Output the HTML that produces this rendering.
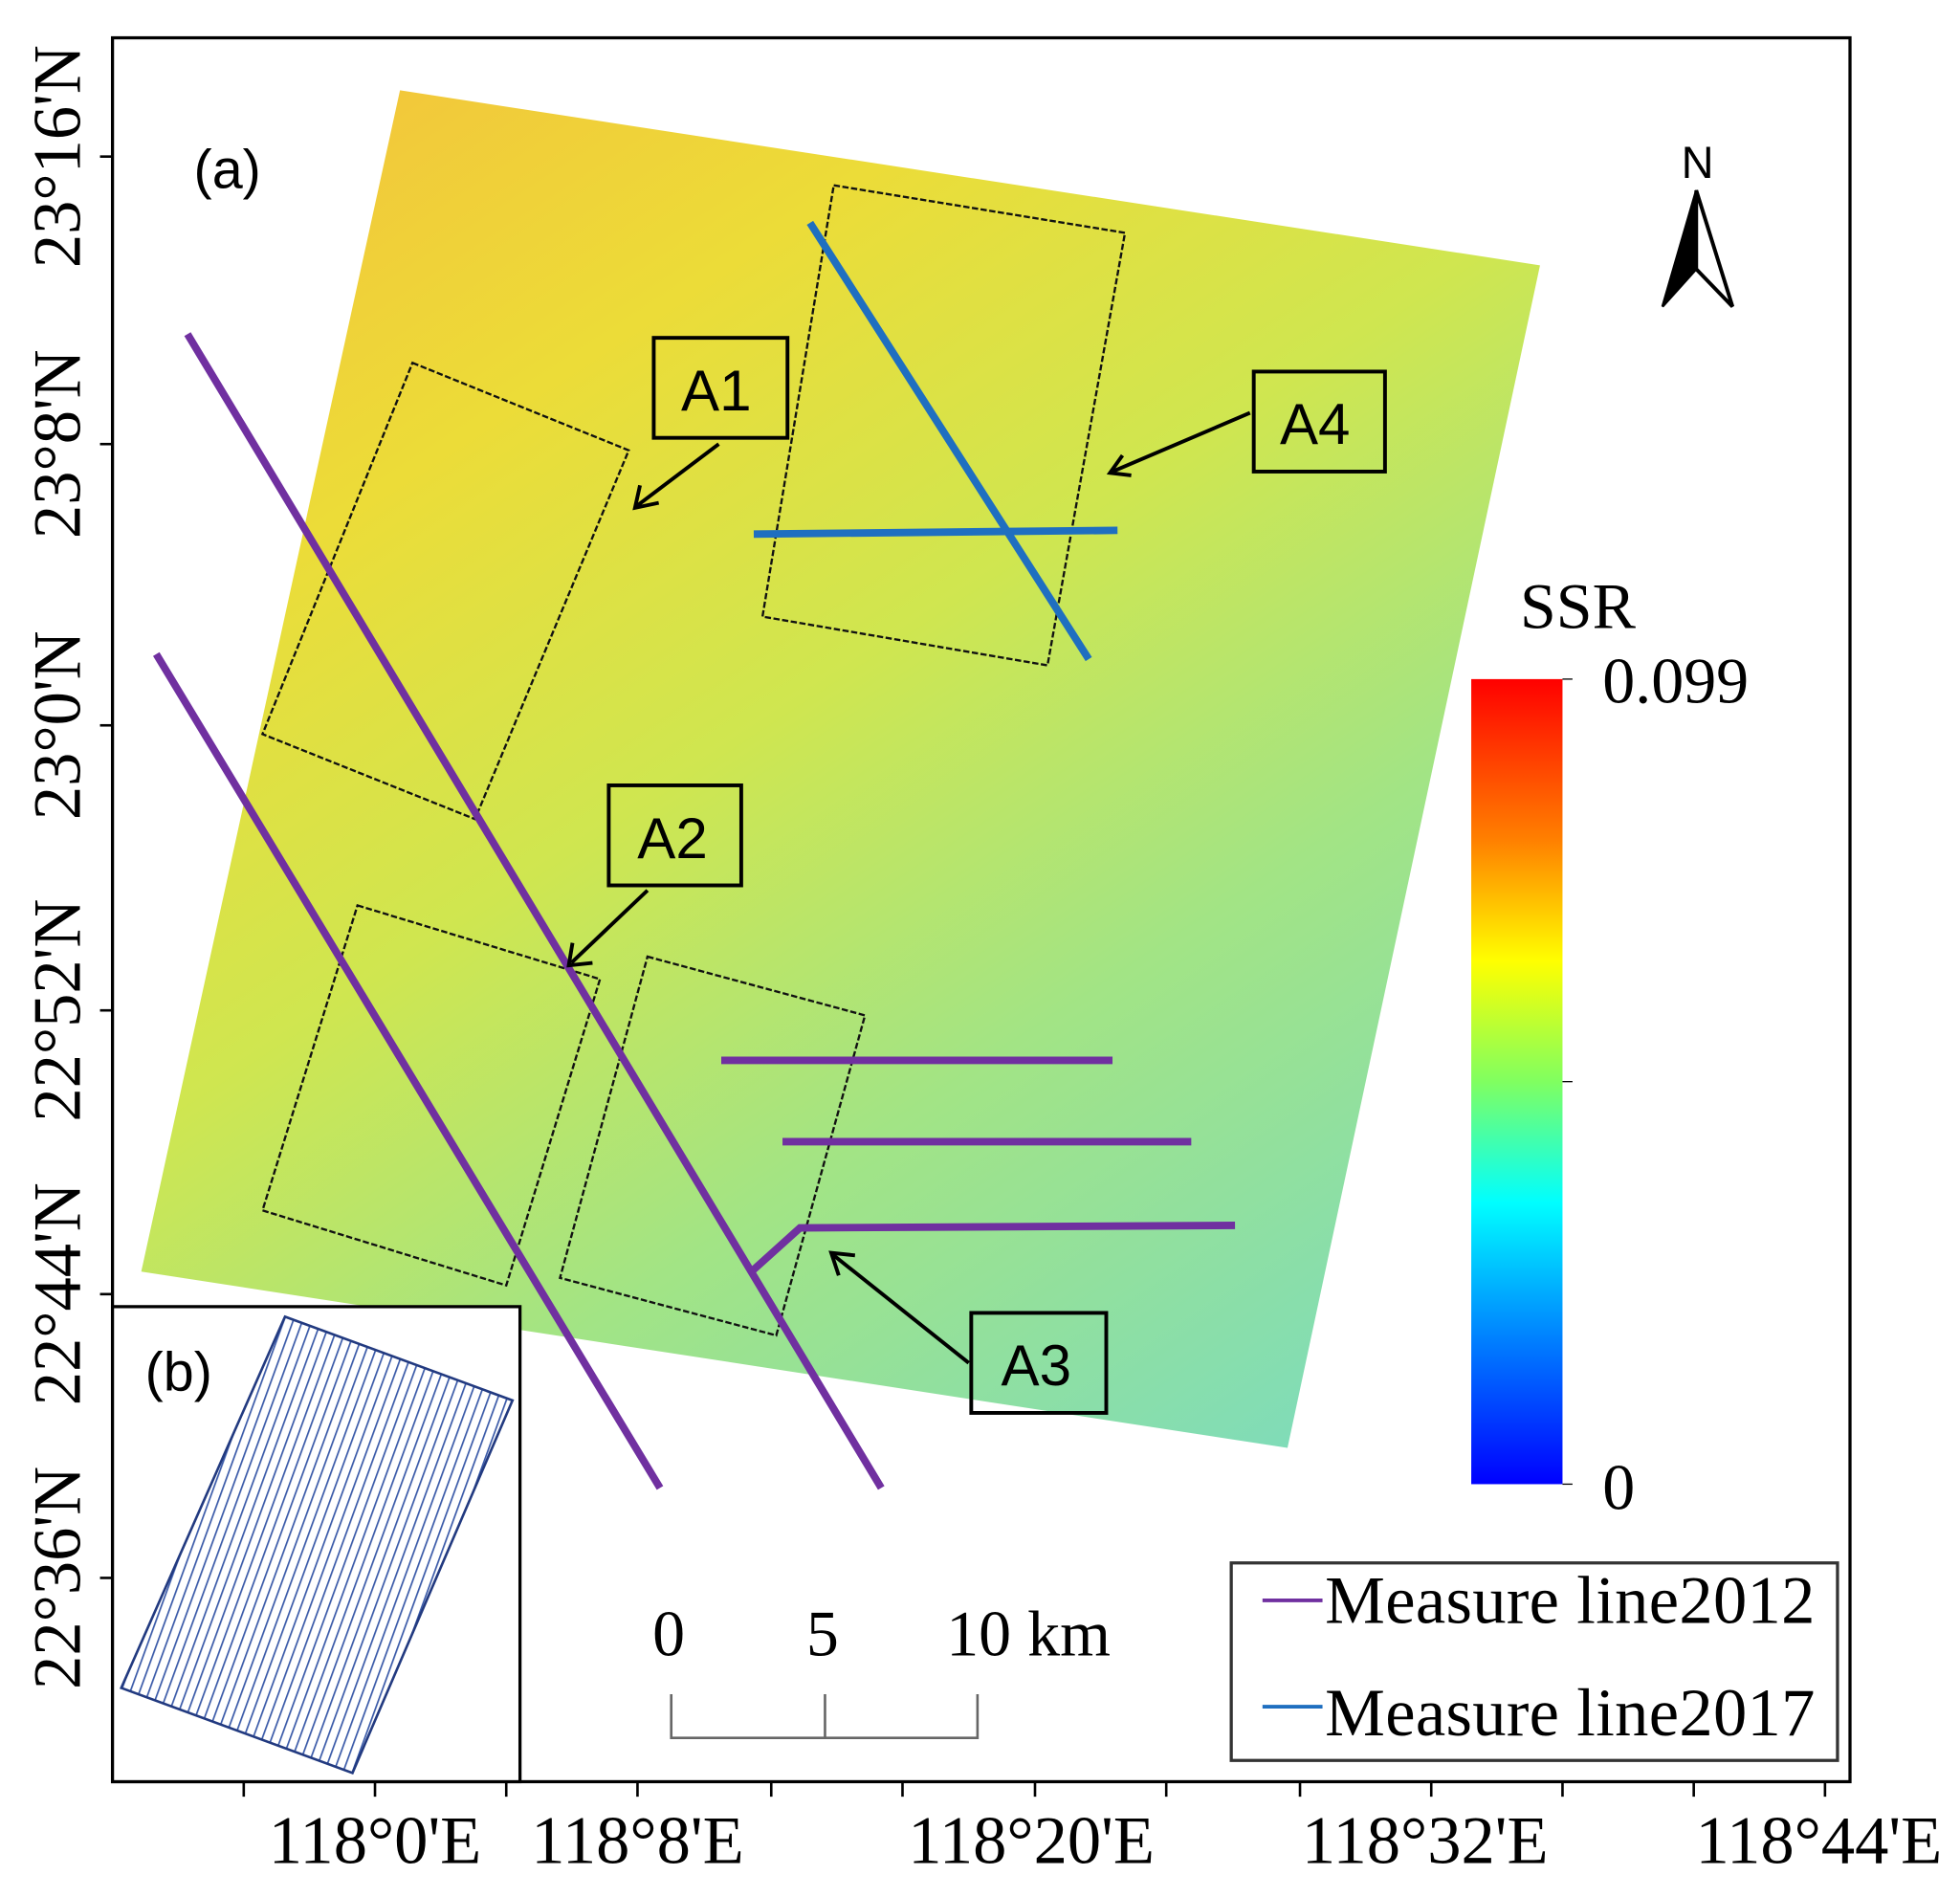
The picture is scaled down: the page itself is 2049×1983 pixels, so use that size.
<!DOCTYPE html>
<html><head><meta charset="utf-8"><style>
html,body{margin:0;padding:0;background:#fff;}
svg{display:block;}
</style></head><body>
<svg width="2049" height="1983" viewBox="0 0 1568 1517" xmlns="http://www.w3.org/2000/svg">
<defs>
<linearGradient id="img" x1="320" y1="72" x2="1030" y2="1158" gradientUnits="userSpaceOnUse">
<stop offset="0" stop-color="#f2c83a"/>
<stop offset="0.2" stop-color="#ecdc38"/>
<stop offset="0.45" stop-color="#cfe650"/>
<stop offset="0.7" stop-color="#a2e485"/>
<stop offset="1" stop-color="#80dcb8"/>
</linearGradient>
<linearGradient id="jet" x1="0" y1="0" x2="0" y2="1">
<stop offset="0" stop-color="#ff0000"/>
<stop offset="0.2" stop-color="#ff8000"/>
<stop offset="0.35" stop-color="#ffff00"/>
<stop offset="0.5" stop-color="#80ff60"/>
<stop offset="0.65" stop-color="#00ffff"/>
<stop offset="0.82" stop-color="#0080ff"/>
<stop offset="1" stop-color="#0000ff"/>
</linearGradient>
<pattern id="stripes" width="7" height="10" patternUnits="userSpaceOnUse" patternTransform="rotate(20)">
<rect width="7" height="10" fill="#fff"/><rect width="1.3" height="10" fill="#3a5aa8"/>
</pattern>
</defs>
<rect x="90" y="30" width="1390" height="1395" fill="#fff" stroke="#000" stroke-width="2.5"/>
<polygon points="320,72 1232,212 1030,1158 113,1017" fill="url(#img)"/>
<g fill="none" stroke="#111" stroke-width="1.8" stroke-dasharray="5,2">
<polygon points="330,290 503,360 380,655 210,587"/>
<polygon points="667,148 900,186 838,532 610,493"/>
<polygon points="286,724 480,783 405,1028 210,968"/>
<polygon points="518,765 692,812 621,1068 448,1022"/>
</g>
<g stroke="#7030a0" stroke-width="6" fill="none">
<line x1="150" y1="267" x2="705" y2="1190"/>
<line x1="125" y1="523" x2="528" y2="1190"/>
<line x1="577" y1="848" x2="890" y2="848"/>
<line x1="626" y1="913" x2="953" y2="913"/>
<polyline points="600,1018 640,982 988,980"/>
</g>
<g stroke="#1f6fc0" stroke-width="6">
<line x1="648" y1="178" x2="871" y2="527"/>
<line x1="603" y1="427" x2="894" y2="424"/>
</g>
<g font-family="Liberation Sans, sans-serif" font-size="46" fill="#000">
<rect x="523" y="270" width="107" height="80" fill="none" stroke="#000" stroke-width="3"/><text x="573" y="328" text-anchor="middle">A1</text>
<rect x="1003" y="297" width="105" height="80" fill="none" stroke="#000" stroke-width="3"/><text x="1052" y="355" text-anchor="middle">A4</text>
<rect x="487" y="628" width="106" height="80" fill="none" stroke="#000" stroke-width="3"/><text x="538" y="686" text-anchor="middle">A2</text>
<rect x="777" y="1050" width="108" height="80" fill="none" stroke="#000" stroke-width="3"/><text x="829" y="1108" text-anchor="middle">A3</text>
<text x="155" y="150" font-size="44">(a)</text>
</g>
<g stroke="#000" stroke-width="3" fill="none">
<line x1="575" y1="355" x2="510" y2="404"/><polyline points="512,388 508,406 527,402"/>
<line x1="1000" y1="330" x2="890" y2="377"/><polyline points="898,364 888,378 905,380"/>
<line x1="518" y1="712" x2="457" y2="770"/><polyline points="458,754 455,772 474,770"/>
<line x1="775" y1="1090" x2="667" y2="1004"/><polyline points="684,1004 665,1002 671,1020"/>
</g>
<text x="1358" y="142" font-family="Liberation Sans, sans-serif" font-size="36" text-anchor="middle">N</text>
<polygon points="1357,152 1330,245 1357,215" fill="#000" stroke="#000" stroke-width="2"/>
<polygon points="1357,152 1386,245 1357,215" fill="#fff" stroke="#000" stroke-width="3"/>
<rect x="1177" y="543" width="73" height="644" fill="url(#jet)"/>
<line x1="1250" y1="543" x2="1258" y2="543" stroke="#000"/><line x1="1250" y1="865" x2="1258" y2="865" stroke="#000"/><line x1="1250" y1="1187" x2="1258" y2="1187" stroke="#000"/>
<g font-family="Liberation Serif, serif" font-size="52" fill="#000">
<text x="1216" y="502">SSR</text>
<text x="1282" y="562">0.099</text>
<text x="1282" y="1207">0</text>
</g>
<rect x="90" y="1045" width="326" height="380" fill="#fff" stroke="#000" stroke-width="2.5"/>
<polygon points="228,1053 410,1120 282,1418 97,1350" fill="url(#stripes)" stroke="#223a80" stroke-width="2"/>
<text x="116" y="1112" font-family="Liberation Sans, sans-serif" font-size="44">(b)</text>
<g font-family="Liberation Serif, serif" font-size="52" fill="#000">
<text x="535" y="1324" text-anchor="middle">0</text>
<text x="658" y="1324" text-anchor="middle">5</text>
<text x="757" y="1324">10 km</text>
</g>
<polyline points="537,1355 537,1390 782,1390 782,1355" fill="none" stroke="#666" stroke-width="2"/>
<line x1="660" y1="1355" x2="660" y2="1390" stroke="#666" stroke-width="2"/>
<rect x="985" y="1250" width="485" height="158" fill="#fff" stroke="#333" stroke-width="2.5"/>
<line x1="1010" y1="1280" x2="1058" y2="1280" stroke="#7030a0" stroke-width="3"/>
<line x1="1010" y1="1365" x2="1058" y2="1365" stroke="#1f6fc0" stroke-width="3"/>
<g font-family="Liberation Serif, serif" font-size="54" fill="#000">
<text x="1060" y="1298" textLength="392">Measure line2012</text>
<text x="1060" y="1388" textLength="392">Measure line2017</text>
</g>
<g stroke="#000" stroke-width="2">
<line x1="80" y1="125" x2="90" y2="125"/><line x1="80" y1="355" x2="90" y2="355"/><line x1="80" y1="580" x2="90" y2="580"/><line x1="80" y1="808" x2="90" y2="808"/><line x1="80" y1="1035" x2="90" y2="1035"/><line x1="80" y1="1262" x2="90" y2="1262"/>
<line x1="195" y1="1425" x2="195" y2="1437"/><line x1="300" y1="1425" x2="300" y2="1437"/><line x1="405" y1="1425" x2="405" y2="1437"/><line x1="510" y1="1425" x2="510" y2="1437"/><line x1="617" y1="1425" x2="617" y2="1437"/><line x1="722" y1="1425" x2="722" y2="1437"/><line x1="828" y1="1425" x2="828" y2="1437"/><line x1="933" y1="1425" x2="933" y2="1437"/><line x1="1040" y1="1425" x2="1040" y2="1437"/><line x1="1145" y1="1425" x2="1145" y2="1437"/><line x1="1250" y1="1425" x2="1250" y2="1437"/><line x1="1355" y1="1425" x2="1355" y2="1437"/><line x1="1460" y1="1425" x2="1460" y2="1437"/>
</g>
<g font-family="Liberation Serif, serif" font-size="54" fill="#000" text-anchor="middle">
<text transform="translate(64,125) rotate(-90)">23°16'N</text>
<text transform="translate(64,355) rotate(-90)">23°8'N</text>
<text transform="translate(64,580) rotate(-90)">23°0'N</text>
<text transform="translate(64,808) rotate(-90)">22°52'N</text>
<text transform="translate(64,1035) rotate(-90)">22°44'N</text>
<text transform="translate(64,1262) rotate(-90)">22°36'N</text>
<text x="300" y="1490">118°0'E</text>
<text x="510" y="1490">118°8'E</text>
<text x="825" y="1490">118°20'E</text>
<text x="1140" y="1490">118°32'E</text>
<text x="1455" y="1490">118°44'E</text>
</g>
</svg>
</body></html>
